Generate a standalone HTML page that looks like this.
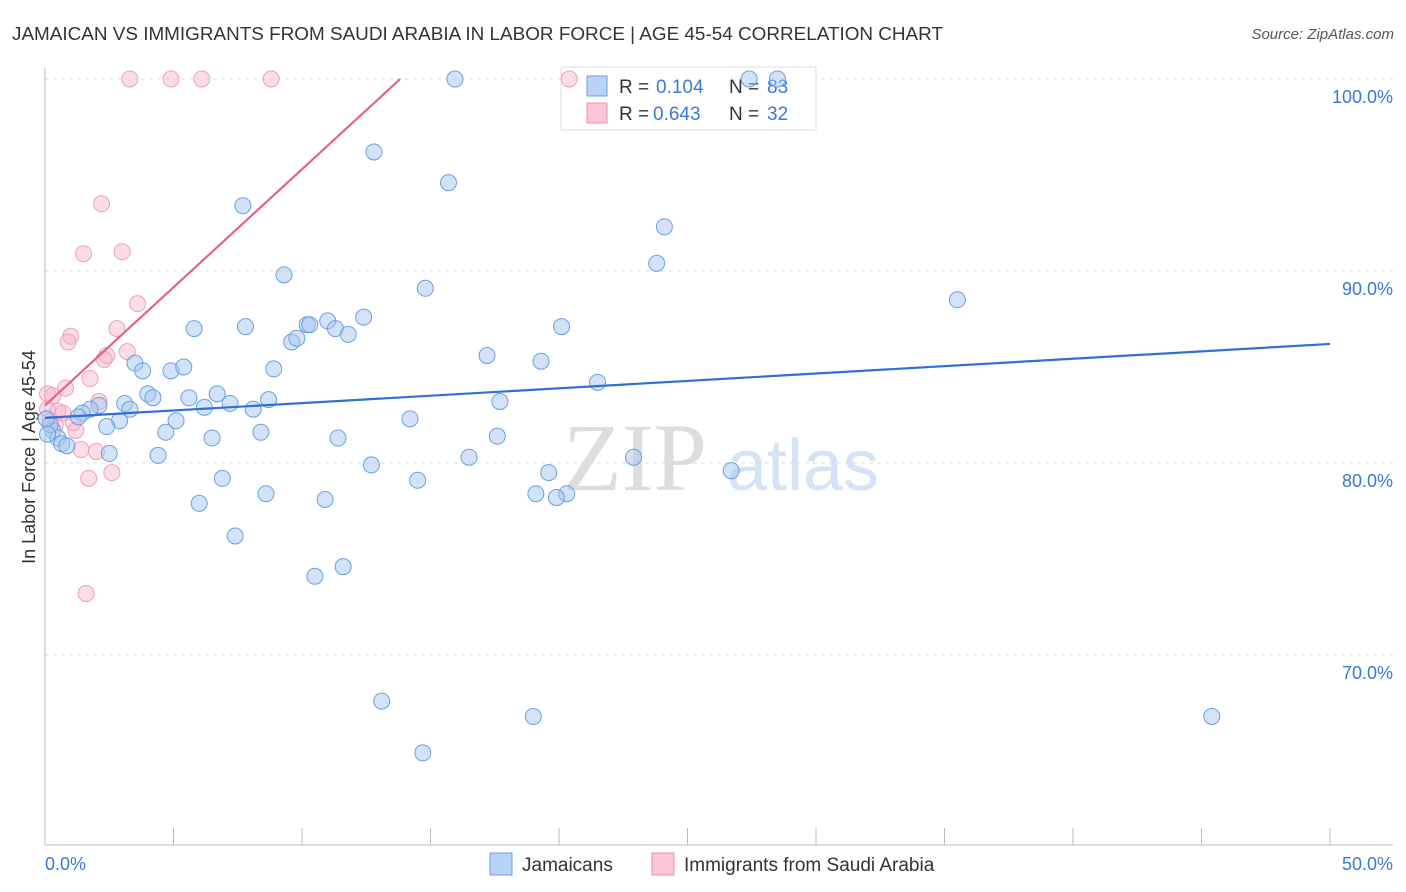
<!DOCTYPE html>
<html><head><meta charset="utf-8"><style>
body{margin:0;background:#fff;font-family:"Liberation Sans",sans-serif;}
svg{display:block}
</style></head><body>
<svg id="c" width="1406" height="892" xmlns="http://www.w3.org/2000/svg">
<text x="12" y="40" font-size="18" fill="#333" textLength="931" lengthAdjust="spacingAndGlyphs">JAMAICAN VS IMMIGRANTS FROM SAUDI ARABIA IN LABOR FORCE | AGE 45-54 CORRELATION CHART</text>
<text x="1394" y="39" font-size="15" fill="#555" font-style="italic" text-anchor="end">Source: ZipAtlas.com</text>
<text x="35" y="457" font-size="18" fill="#333" text-anchor="middle" transform="rotate(-90 35 457)">In Labor Force | Age 45-54</text>
<g><text x="635" y="490" font-size="96" fill="#ddd" font-family="Liberation Serif,serif" text-anchor="middle">ZIP</text><text x="803" y="490" font-size="72" fill="#d4e3f6" text-anchor="middle">atlas</text></g>
<g id="grid"></g><g id="axes"></g>
<g>
<rect x="561" y="67" width="255" height="63" fill="#fff" stroke="#ddd"/>
<rect x="587" y="76" width="20" height="20" fill="#b8d3f5" stroke="#6a9fe0"/>
<text x="619" y="93" font-size="19" fill="#333">R =</text><text x="656" y="93" font-size="19" fill="#3a78d8">0.104</text>
<text x="729" y="93" font-size="19" fill="#333">N =</text><text x="767" y="93" font-size="19" fill="#3a78d8">83</text>
<rect x="587" y="103" width="20" height="20" fill="#fac6d6" stroke="#e890b0"/>
<text x="619" y="120" font-size="19" fill="#333">R =</text><text x="653" y="120" font-size="19" fill="#3a78d8">0.643</text>
<text x="729" y="120" font-size="19" fill="#333">N =</text><text x="767" y="120" font-size="19" fill="#3a78d8">32</text>
</g>
<g id="marks"></g>
<g><rect x="490" y="853" width="22" height="22" fill="#b8d3f5" stroke="#6a9fe0"/><text x="522" y="871" font-size="19" fill="#333">Jamaicans</text></g>
<g><rect x="652" y="853" width="22" height="22" fill="#fac6d6" stroke="#e890b0"/><text x="684" y="871" font-size="19" fill="#333">Immigrants from Saudi Arabia</text></g>
</svg>
<script>
const blueX=[15.95,27.4,28.5,12.8,15.7,7.7,24.1,23.8,9.3,14.8,35.5,5.8,7.8,10.2,10.3,11.0,12.4,11.3,11.8,9.6,9.8,20.1,17.2,19.3,3.5,3.8,4.9,5.4,8.9,21.5,4.0,4.2,5.6,6.7,7.2,8.7,3.1,3.3,6.2,8.1,17.7,2.1,1.75,1.45,1.3,2.9,5.1,14.2,2.4,4.7,8.4,6.5,11.4,17.6,0.3,0.5,0.65,0.85,0.2,2.5,4.4,16.5,22.9,12.7,19.6,26.7,6.9,14.5,8.6,19.1,20.3,19.9,6.0,10.9,7.4,11.6,10.5,13.1,19.0,14.7,45.4,0.05,0.1];
const blueY=[100,100,100,96.2,94.6,93.4,92.3,90.4,89.8,89.1,88.5,87.0,87.1,87.2,87.2,87.4,87.6,87.0,86.7,86.3,86.5,87.1,85.6,85.3,85.2,84.8,84.8,85.0,84.9,84.2,83.6,83.4,83.4,83.6,83.1,83.3,83.1,82.8,82.9,82.8,83.2,83.0,82.8,82.6,82.4,82.2,82.2,82.3,81.9,81.6,81.6,81.3,81.3,81.4,81.7,81.3,81.0,80.9,82.0,80.5,80.4,80.3,80.3,79.9,79.5,79.6,79.2,79.1,78.4,78.4,78.4,78.2,77.9,78.1,76.2,74.6,74.1,67.6,66.8,64.9,66.8,82.3,81.5];
const pinkX=[3.3,4.9,6.1,8.8,20.4,2.2,3.0,1.5,3.6,2.8,1.0,0.9,3.2,2.4,2.3,1.75,0.8,0.1,0.3,0.1,0.5,0.7,0.2,0.4,1.1,2.1,1.2,1.4,2.0,2.6,1.7,1.6];
const pinkY=[100,100,100,100,100,93.5,91.0,90.9,88.3,87.0,86.6,86.3,85.8,85.6,85.4,84.4,83.9,83.6,83.5,82.8,82.7,82.6,82.2,82.0,82.1,83.2,81.7,80.7,80.6,79.5,79.2,73.2];
const blueTrend=[82.35,86.2];
const pinkTrend=[83.0,1.23];
const yTicks=[100,90,80,70];
const xTickVals=[0,5,10,15,20,25,30,35,40,45,50];
const NS="http://www.w3.org/2000/svg";
const sx=v=>45+v/50*1285, sy=v=>79+(100-v)*19.2;
function mk(tag,attrs,parent){const e=document.createElementNS(NS,tag);for(const k in attrs)e.setAttribute(k,attrs[k]);document.getElementById(parent).appendChild(e);return e;}
yTicks.forEach(t=>{
 const l=mk('line',{x1:45,x2:1393,y1:sy(t),y2:sy(t),stroke:'#ddd','stroke-dasharray':'4 4'},'grid');
 
 
 const tx=mk('text',{x:1393,y:sy(t)+24,'font-size':18,fill:'#3a78d8','text-anchor':'end'},'grid');
 tx.textContent=t.toFixed(1)+'%';
 
 
});
mk('line',{x1:45,x2:45,y1:68,y2:845,stroke:'#bbb'},'axes');
mk('line',{x1:45,x2:1393,y1:845,y2:845,stroke:'#bbb'},'axes');
xTickVals.forEach(t=>{
 const l=mk('line',{x1:sx(t),x2:sx(t),y1:828,y2:845,stroke:'#bbb'},'axes');
 
 
});
[[0,'start'],[50,'end']].forEach(([v,a])=>{
 const tx=mk('text',{x:v==0?45:1393,y:870,'font-size':18,fill:'#3a78d8','text-anchor':a},'axes');
 tx.textContent=v.toFixed(1)+'%';
 
 
});
pinkX.forEach((x,i)=>{
 const c=mk('circle',{cx:sx(x),cy:sy(pinkY[i]),r:8,fill:'rgba(248,180,202,0.45)',stroke:'#eba0ba','stroke-width':1},'marks');
 
 
});
blueX.forEach((x,i)=>{
 const c=mk('circle',{cx:sx(x),cy:sy(blueY[i]),r:8,fill:'rgba(168,200,240,0.5)',stroke:'#6a9fe0','stroke-width':1},'marks');
 
 
});
const bl=mk('line',{x1:sx(0),y1:sy(blueTrend[0]),x2:sx(50),y2:sy(blueTrend[1]),stroke:'#2f6fd6','stroke-width':2.2},'marks');


const xe=(100-pinkTrend[0])/pinkTrend[1];
const pl=mk('line',{x1:sx(0),y1:sy(pinkTrend[0]),x2:sx(xe),y2:sy(100),stroke:'#e8608e','stroke-width':2.2},'marks');


</script>
</body></html>
